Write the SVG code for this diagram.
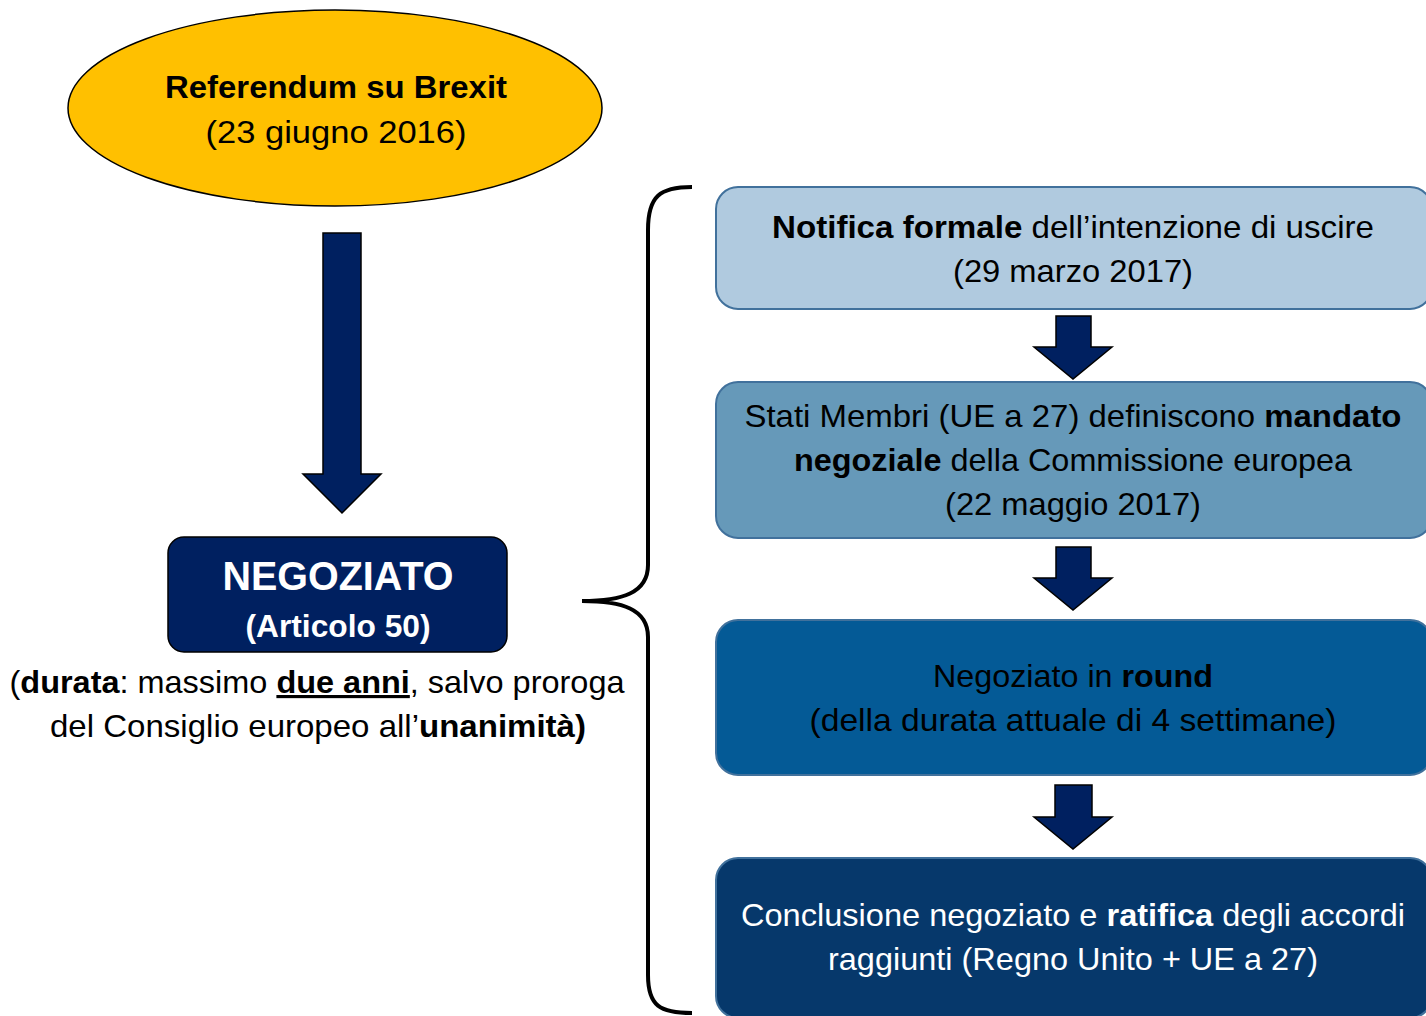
<svg xmlns="http://www.w3.org/2000/svg" width="1426" height="1016" viewBox="0 0 1426 1016">
<style>
text{font-family:"Liberation Sans",Arial,sans-serif;font-size:31.5px;fill:#000}
.b{font-weight:bold}
.w{fill:#fff}
.arr{fill:#002060;stroke:#000;stroke-width:1.5}
.box{stroke:#41719C;stroke-width:2}
</style>
<rect width="1426" height="1016" fill="#fff"/>
<g id="referendum">
<ellipse cx="335" cy="108" rx="267" ry="98" fill="#FFC000" stroke="#000" stroke-width="1.5"/>
<text x="336" y="98" text-anchor="middle" class="b" textLength="342" lengthAdjust="spacingAndGlyphs">Referendum su Brexit</text>
<text x="336" y="143" text-anchor="middle" textLength="261" lengthAdjust="spacingAndGlyphs">(23 giugno 2016)</text>
</g>
<g id="negoziato">
<rect x="168" y="537" width="339" height="115" rx="16" fill="#002060" stroke="#000" stroke-width="1.5"/>
<text x="338" y="590" text-anchor="middle" class="b w" style="font-size:41px" textLength="231" lengthAdjust="spacingAndGlyphs">NEGOZIATO</text>
<text x="338" y="637" text-anchor="middle" class="b w" textLength="185" lengthAdjust="spacingAndGlyphs">(Articolo 50)</text>
</g>
<g id="durata">
<text x="317" y="693" text-anchor="middle" textLength="615" lengthAdjust="spacingAndGlyphs">(<tspan class="b">durata</tspan>: massimo <tspan class="b" text-decoration="underline">due anni</tspan>, salvo proroga</text>
<text x="318" y="737" text-anchor="middle" textLength="536" lengthAdjust="spacingAndGlyphs">del Consiglio europeo all’<tspan class="b">unanimità)</tspan></text>
</g>
<g id="step1">
<rect x="716" y="187" width="716" height="122" rx="22" class="box" fill="#B0CADF"/>
<text x="1073" y="238" text-anchor="middle" textLength="602" lengthAdjust="spacingAndGlyphs"><tspan class="b">Notifica formale</tspan> dell’intenzione di uscire</text>
<text x="1073" y="282" text-anchor="middle" textLength="240" lengthAdjust="spacingAndGlyphs">(29 marzo 2017)</text>
</g>
<g id="step2">
<rect x="716" y="382" width="716" height="156" rx="22" class="box" fill="#6699B9"/>
<text x="1073" y="427" text-anchor="middle" textLength="657" lengthAdjust="spacingAndGlyphs">Stati Membri (UE a 27) definiscono <tspan class="b">mandato</tspan></text>
<text x="1073" y="471" text-anchor="middle" textLength="558" lengthAdjust="spacingAndGlyphs"><tspan class="b">negoziale</tspan> della Commissione europea</text>
<text x="1073" y="515" text-anchor="middle" textLength="256" lengthAdjust="spacingAndGlyphs">(22 maggio 2017)</text>
</g>
<g id="step3">
<rect x="716" y="620" width="716" height="155" rx="22" class="box" fill="#045A96"/>
<text x="1073" y="687" text-anchor="middle" textLength="280" lengthAdjust="spacingAndGlyphs">Negoziato in <tspan class="b">round</tspan></text>
<text x="1073" y="731" text-anchor="middle" textLength="527" lengthAdjust="spacingAndGlyphs">(della durata attuale di 4 settimane)</text>
</g>
<g id="step4">
<rect x="716" y="858" width="716" height="160" rx="22" class="box" fill="#06386B"/>
<text x="1073" y="926" text-anchor="middle" class="w" textLength="664" lengthAdjust="spacingAndGlyphs">Conclusione negoziato e <tspan class="b">ratifica</tspan> degli accordi</text>
<text x="1073" y="970" text-anchor="middle" class="w" textLength="490" lengthAdjust="spacingAndGlyphs">raggiunti (Regno Unito + UE a 27)</text>
</g>
<g id="connectors">
<path class="arr" d="M323,233 H361 V474 H381 L342,513 L303,474 H323 Z"/>
<path class="arr" d="M1056,316 H1091 V347 H1112 L1073,379 L1034,347 H1056 Z"/>
<path class="arr" d="M1056,547 H1091 V578 H1112 L1073,610 L1034,578 H1056 Z"/>
<path class="arr" d="M1055,785 H1092 V817 H1112 L1073,849 L1034,817 H1055 Z"/>
<path d="M692,187 C660,187 648,196 648,230 L648,565 C648,593 622,601 582,601 C622,601 648,609 648,637 L648,975 C648,1006 660,1013 692,1013" fill="none" stroke="#000" stroke-width="4"/>
</g>
</svg>
